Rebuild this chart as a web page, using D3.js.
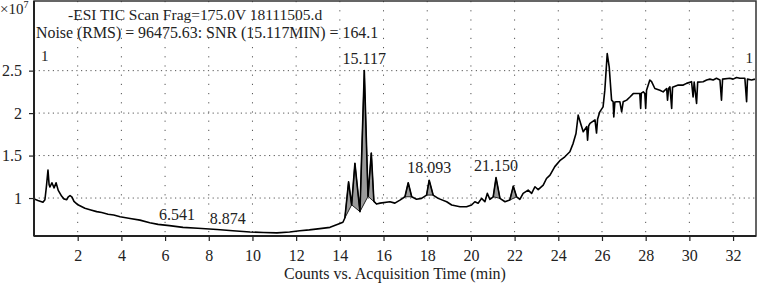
<!DOCTYPE html>
<html>
<head>
<meta charset="utf-8">
<script src="https://cdn.jsdelivr.net/npm/d3@7"></script>
<style>
  body { margin: 0; background: #fff; }
  svg { display: block; font-family: "Liberation Serif", "DejaVu Serif", serif; }
</style>
</head>
<body>
<svg width="758" height="286"></svg>
<script>
// acquisition time (min)
const acqTime = [
    0.00, 0.18, 0.41, 0.50, 0.57, 0.64, 0.69, 0.73, 0.82, 0.92,
    1.01, 1.11, 1.27, 1.37, 1.50, 1.56, 1.65, 1.74, 1.83, 2.01,
    2.33, 2.60, 2.87, 3.10, 3.39, 3.65, 3.94, 4.40, 4.85, 5.30,
    5.68, 6.20, 6.82, 7.50, 8.38, 9.10, 9.89, 10.50, 11.12, 11.70,
    12.17, 12.60, 13.09, 13.55, 14.00, 14.14, 14.23, 14.40, 14.54, 14.69,
    14.92, 15.12, 15.29, 15.44, 15.56, 15.68, 15.84, 16.29, 16.52, 16.75,
    16.98, 17.13, 17.29, 17.51, 17.74, 17.97, 18.09, 18.27, 18.50, 18.89,
    19.12, 19.50, 19.80, 20.03, 20.18, 20.33, 20.49, 20.64, 20.75, 20.87,
    21.02, 21.15, 21.33, 21.56, 21.78, 21.94, 22.09, 22.24, 22.39, 22.62,
    22.78, 22.93, 23.08, 23.31, 23.46, 23.62, 23.84, 24.07, 24.30, 24.53,
    24.68, 24.81, 24.91, 25.02, 25.14, 25.30, 25.34, 25.39, 25.45, 25.68,
    25.75, 25.80, 25.90, 26.05, 26.13, 26.24, 26.33, 26.44, 26.51, 26.54,
    26.59, 26.67, 26.82, 26.90, 26.97, 27.13, 27.28, 27.43, 27.58, 27.73,
    27.77, 27.80, 27.89, 27.96, 28.00, 28.04, 28.19, 28.27, 28.42, 28.65,
    28.80, 28.96, 29.00, 29.05, 29.11, 29.19, 29.23, 29.49, 29.72, 29.87,
    30.10, 30.17, 30.22, 30.33, 30.38, 30.63, 30.79, 30.94, 31.09, 31.24,
    31.40, 31.47, 31.52, 31.85, 32.00, 32.16, 32.31, 32.54, 32.62, 32.66,
    32.85, 33.00
];

// TIC counts (x10^7)
const ticCounts = [
    0.99, 0.97, 0.95, 0.98, 1.14, 1.33, 1.16, 1.13, 1.18, 1.12,
    1.18, 1.09, 1.02, 0.99, 0.98, 1.01, 1.03, 1.01, 0.96, 0.92,
    0.88, 0.86, 0.84, 0.83, 0.81, 0.80, 0.78, 0.76, 0.74, 0.71,
    0.69, 0.675, 0.655, 0.645, 0.63, 0.615, 0.60, 0.595, 0.59, 0.60,
    0.615, 0.625, 0.64, 0.655, 0.70, 0.715, 0.765, 1.19, 0.92, 1.41,
    0.84, 2.50, 1.02, 1.53, 0.96, 0.93, 0.94, 0.956, 0.94, 0.976,
    1.015, 1.18, 1.015, 0.985, 0.996, 1.035, 1.21, 1.035, 0.996, 0.956,
    0.918, 0.898, 0.898, 0.918, 0.956, 0.938, 0.996, 0.956, 1.055, 0.985,
    1.015, 1.24, 0.996, 0.956, 0.976, 1.14, 1.015, 0.985, 1.055, 1.094,
    1.055, 1.133, 1.10, 1.153, 1.23, 1.27, 1.37, 1.44, 1.486, 1.545,
    1.644, 1.76, 1.976, 1.88, 1.78, 1.84, 1.68, 1.85, 1.88, 1.92,
    1.765, 1.93, 2.015, 2.074, 2.27, 2.70, 2.545, 2.153, 2.133, 1.956,
    2.13, 2.133, 2.133, 2.015, 2.133, 2.153, 2.19, 2.23, 2.23, 2.23,
    2.055, 2.235, 2.25, 2.23, 2.055, 2.27, 2.39, 2.37, 2.29, 2.27,
    2.25, 2.29, 2.153, 2.29, 2.31, 2.055, 2.305, 2.33, 2.33, 2.35,
    2.37, 2.19, 2.365, 2.115, 2.365, 2.37, 2.39, 2.40, 2.39, 2.41,
    2.39, 2.153, 2.40, 2.41, 2.40, 2.42, 2.41, 2.41, 2.133, 2.40,
    2.39, 2.40
];

// integrated peak windows (min)
const peakStart = [14.23, 14.54, 14.92, 15.29, 16.98, 17.97, 21.02, 21.78];
const peakEnd   = [14.54, 14.92, 15.29, 15.68, 17.29, 18.27, 21.33, 22.09];

// labelled retention times
const peakLabels = [6.541, 8.874, 15.117, 18.093, 21.150];

const xTicks = [2, 4, 6, 8, 10, 12, 14, 16, 18, 20, 22, 24, 26, 28, 30, 32];
const yTicks = [1, 1.5, 2, 2.5];

const titleLine = "-ESI TIC Scan Frag=175.0V 18111505.d";
const noiseLine = "Noise (RMS) = 96475.63: SNR (15.117MIN) = 164.1";
const xTitle = "Counts vs. Acquisition Time (min)";

const margin = { left: 34, right: 2, top: 1, bottom: 50 };
const width = 758, height = 286;

const svg = d3.select("svg");

const x = d3.scaleLinear().domain([0, 33.05]).range([margin.left, width - margin.right]);
const y = d3.scaleLinear().domain([0.553, 3.32]).range([height - margin.bottom, margin.top]);

const points = acqTime.map((t, i) => ({ t: t, v: ticCounts[i] }));

// dotted grid
const grid = svg.append("g").attr("class", "grid");
grid.selectAll("line.vx")
    .data(xTicks)
    .enter().append("line")
    .attr("x1", d => x(d)).attr("x2", d => x(d))
    .attr("y1", y.range()[1]).attr("y2", y.range()[0])
    .attr("stroke", "#555")
    .attr("stroke-width", 1)
    .attr("stroke-dasharray", "1.2,8");
grid.selectAll("line.hy")
    .data(yTicks)
    .enter().append("line")
    .attr("x1", x.range()[0]).attr("x2", x.range()[1])
    .attr("y1", d => y(d)).attr("y2", d => y(d))
    .attr("stroke", "#555")
    .attr("stroke-width", 1)
    .attr("stroke-dasharray", "1.2,3.5");

// frame
svg.append("rect")
    .attr("x", x.range()[0]).attr("y", y.range()[1])
    .attr("width", x.range()[1] - x.range()[0])
    .attr("height", y.range()[0] - y.range()[1])
    .attr("fill", "none")
    .attr("stroke", "#333")
    .attr("stroke-width", 1.5);

// shaded integrated peaks
const line = d3.line().x(d => x(d.t)).y(d => y(d.v));
svg.append("g").selectAll("path")
    .data(peakStart.map((s, i) => points.filter(p => p.t >= s - 1e-6 && p.t <= peakEnd[i] + 1e-6)))
    .enter().append("path")
    .attr("d", d => line(d) + "Z")
    .attr("fill", "#9a9a9a")
    .attr("stroke", "#222")
    .attr("stroke-width", 1);

// trace
svg.append("path")
    .datum(points)
    .attr("d", line)
    .attr("fill", "none")
    .attr("stroke", "#000")
    .attr("stroke-width", 1.6)
    .attr("stroke-linejoin", "round");

// axes
const xAxis = svg.append("g")
    .attr("transform", `translate(0,${y.range()[0]})`)
    .call(d3.axisBottom(x).tickValues(xTicks).tickSize(5).tickPadding(9).tickSizeOuter(0));
const yAxis = svg.append("g")
    .attr("transform", `translate(${x.range()[0]},0)`)
    .call(d3.axisLeft(y).tickValues(yTicks).tickSize(5).tickPadding(7).tickSizeOuter(0)
        .tickFormat(d3.format("~g")));

[xAxis, yAxis].forEach(a => {
    a.select(".domain").attr("stroke", "#222").attr("stroke-width", 2);
    a.selectAll(".tick line").attr("stroke", "#222").attr("stroke-width", 1.2);
    a.selectAll(".tick text")
        .attr("font-family", "Liberation Serif, serif")
        .attr("font-size", 16)
        .attr("fill", "#222");
});
xAxis.select(".domain").attr("d", `M${x.range()[0]},0H${x.range()[1]}`);
yAxis.select(".domain").attr("d", `M0,${y.range()[0]}V${y.range()[1]}`);

// peak labels
function countsAt(t) {
    const i = d3.minIndex(points, p => Math.abs(p.t - t));
    return points[i].v;
}
svg.append("g").selectAll("text")
    .data(peakLabels)
    .enter().append("text")
    .attr("x", d => x(d))
    .attr("y", d => y(countsAt(d)) - 7)
    .attr("text-anchor", "middle")
    .attr("font-size", 16)
    .attr("fill", "#222")
    .text(d => d3.format(".3f")(d));

// header texts
const ex = svg.append("text").attr("x", 0).attr("y", 14).attr("font-size", 15).attr("fill", "#222");
ex.append("tspan").text("\u00d710");
ex.append("tspan").attr("dy", -6).attr("font-size", 10).text("7");

svg.append("text").attr("x", 68).attr("y", 20).attr("font-size", 15.5).attr("fill", "#222").text(titleLine);
svg.append("text").attr("x", 36).attr("y", 38).attr("font-size", 15.9).attr("fill", "#222").text(noiseLine);
svg.append("text").attr("x", 41).attr("y", 61).attr("font-size", 15).attr("fill", "#222").text("1");
svg.append("text").attr("x", 753).attr("y", 63).attr("text-anchor", "end").attr("font-size", 15).attr("fill", "#222").text("1");

svg.append("text")
    .attr("x", 395).attr("y", 279)
    .attr("text-anchor", "middle")
    .attr("font-size", 16)
    .attr("fill", "#222")
    .text(xTitle);
</script>
</body>
</html>
